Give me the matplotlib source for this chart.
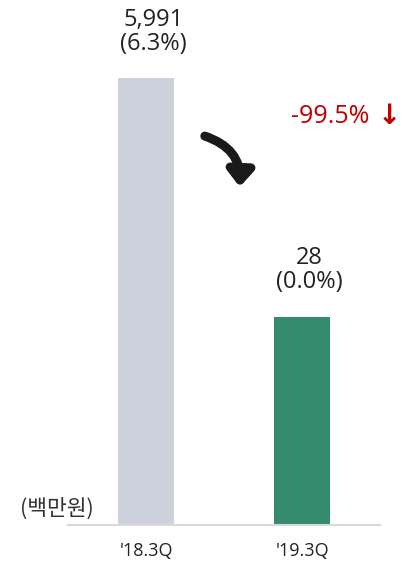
import matplotlib
matplotlib.use("Agg")
import matplotlib.pyplot as plt

plt.rcParams["font.family"] = ["Open Sans", "Noto Sans CJK KR", "DejaVu Sans"]

# 데이터
periods = ["'18.3Q", "'19.3Q"]
values = [5991, 28]            # 백만원
ratios = [6.3, 0.0]            # %
# 원본 차트는 축이 끊긴 형태로 그려져 막대 높이가 값에 비례하지 않음
bar_heights = [5991, 2790]
bar_colors = ["#CDD1DC", "#358B6E"]
change_text = "-99.5%"

fig = plt.figure(figsize=(4.07, 5.64), dpi=100)
ax = fig.add_axes([68 / 407, 39 / 564, 312 / 407, 525 / 564])
x = list(range(len(periods)))
ax.bar(x, bar_heights, width=0.36, color=bar_colors)
ax.set_xlim(-0.5, 1.5)
ax.set_ylim(0, 5991 * 525 / 447)

for xi, h, v, r in zip(x, bar_heights, values, ratios):
    ax.text(xi + 0.05, h + 300, f"{v:,}\n({r:.1f}%)", ha="center", va="bottom",
            fontsize=17, color="#222222", linespacing=1.0)

ax.set_xticks(x)
ax.set_xticklabels(periods, fontsize=13, color="#222222")
ax.tick_params(axis="x", length=0, pad=12)
ax.set_yticks([])
for s in ["top", "right", "left"]:
    ax.spines[s].set_visible(False)
ax.spines["bottom"].set_color("#D9D9D9")
ax.spines["bottom"].set_linewidth(1.5)

fig.text(20 / 407, 1 - 509 / 564, "(백만원)", fontsize=15.5, color="#333333",
         ha="left", va="center", family=["Noto Sans CJK KR"])

# 감소율
fig.text(369 / 407, 1 - 117 / 564, change_text, ha="right", va="center",
         fontsize=18, color="#C00000")
fig.text(389 / 407, 1 - 116 / 564, "↓", ha="center", va="center",
         fontsize=20, color="#C00000", fontweight="bold", family=["DejaVu Sans"])

# 곡선 화살표
ax.annotate("", xy=(0.6, 5991 * 0.75), xytext=(0.36, 5991 * 0.872),
            arrowprops=dict(arrowstyle="-|>,head_width=0.75,head_length=0.9",
                            connectionstyle="arc3,rad=-0.4",
                            color="#1A1A1A", lw=6.5))

fig.savefig("out.png", dpi=100)
